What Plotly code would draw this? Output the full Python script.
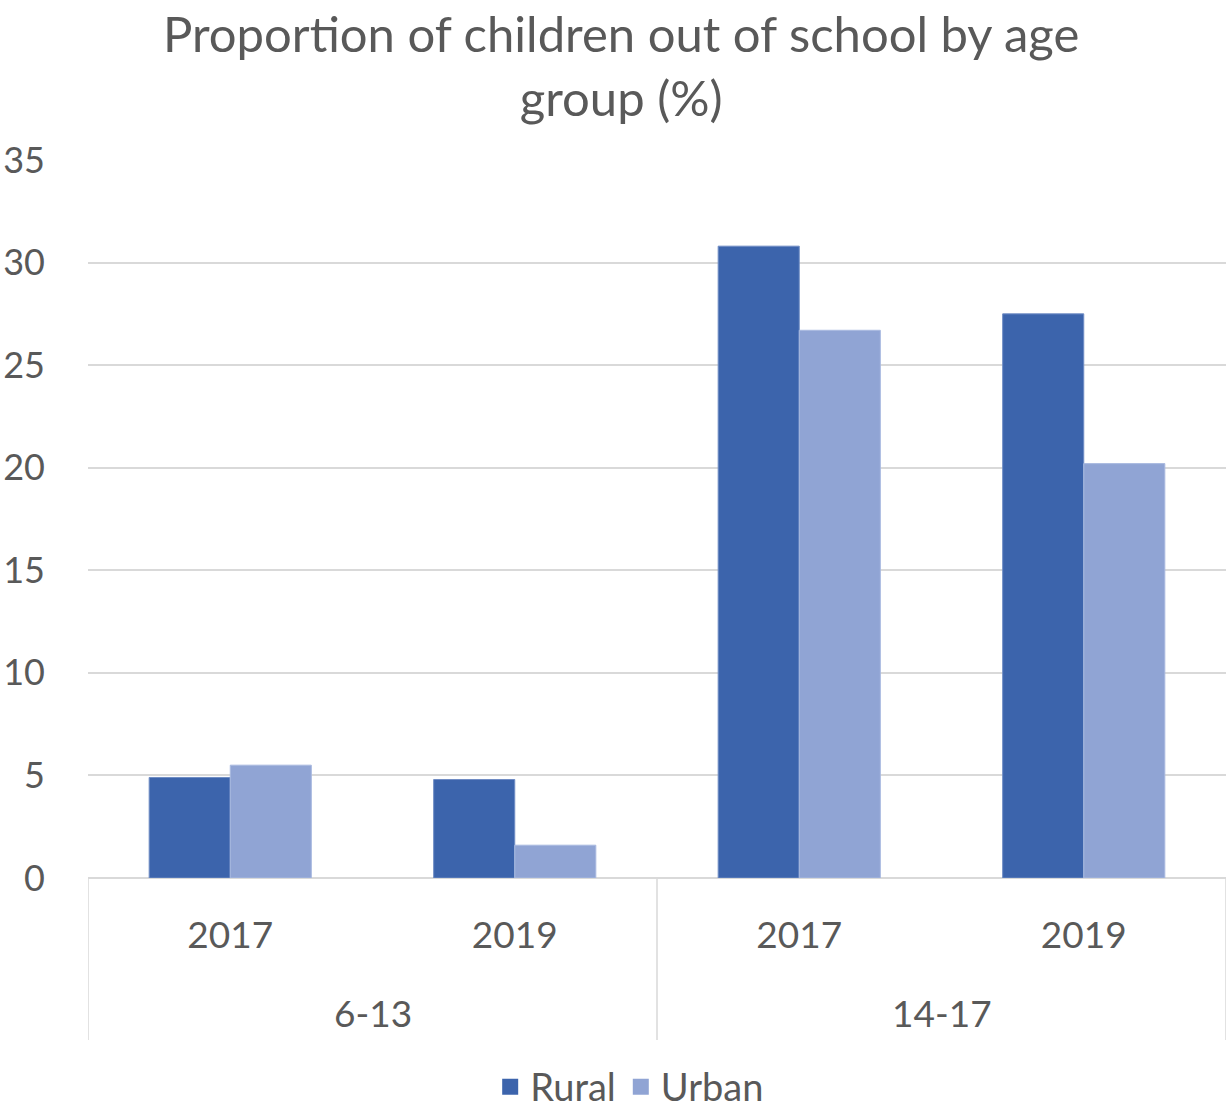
import plotly.graph_objects as go

age_groups = ["6-13", "14-17"]
years = ["2017", "2019", "2017", "2019"]
rural = [4.9, 4.8, 30.8, 27.5]
urban = [5.5, 1.6, 26.7, 20.2]
y_ticks = [0, 5, 10, 15, 20, 25, 30, 35]

FONT = "Lato, 'Open Sans', sans-serif"
TXT = "#595959"
GRID = "#D9D9D9"
C_RURAL = "#3C64AC"
C_URBAN = "#90A4D4"

xpos = list(range(len(years)))

fig = go.Figure()
fig.add_trace(go.Bar(x=xpos, y=rural, name="Rural", showlegend=False,
                     marker=dict(color=C_RURAL, line=dict(color="#6F8CC4", width=1))))
fig.add_trace(go.Bar(x=xpos, y=urban, name="Urban", showlegend=False,
                     marker=dict(color=C_URBAN, line=dict(color="#A9BAE0", width=1))))
# legend entries with larger square swatches
for nm, c in [("Rural", C_RURAL), ("Urban", C_URBAN)]:
    fig.add_trace(go.Scatter(x=[None], y=[None], mode="markers", name=nm,
                             marker=dict(symbol="square", size=22, color=c)))

# group labels and dividers
for i, g in enumerate(age_groups):
    fig.add_annotation(x=2 * i + 0.5, xref="x", y=-0.188, yref="paper", text=g, showarrow=False,
                       font=dict(family=FONT, size=37, color=TXT), yanchor="middle")
for xv in [-0.5, 1.5, 3.5]:
    fig.add_shape(type="line", x0=xv, x1=xv, xref="x", y0=0, y1=-0.2256, yref="paper",
                  line=dict(color=GRID, width=1.5))

fig.update_layout(
    width=1230, height=1109,
    margin=dict(l=88, r=4, t=160, b=231, autoexpand=False),
    paper_bgcolor="white", plot_bgcolor="white",
    title=dict(text="Proportion of children out of school by age<br>group (%)", x=0.505, xanchor="center",
               y=0.953, yanchor="top", font=dict(family=FONT, size=49, color=TXT)),
    barmode="group", bargap=0.43, bargroupgap=0,
    showlegend=True,
    legend=dict(orientation="h", x=0.476, xanchor="center", y=-0.291, yanchor="middle",
                font=dict(family=FONT, size=38, color=TXT), itemsizing="trace"),
    xaxis=dict(range=[-0.5, 3.5], tickvals=xpos, ticktext=years, showgrid=False, zeroline=False,
               showline=False, ticks="", ticklabelstandoff=32,
               tickfont=dict(family=FONT, size=37, color=TXT)),
    yaxis=dict(range=[0, 35], tickvals=y_ticks, showgrid=True, gridcolor=GRID, gridwidth=2,
               zeroline=True, zerolinecolor=GRID, zerolinewidth=2, showline=False, ticks="",
               ticklabelstandoff=42, tickfont=dict(family=FONT, size=36, color=TXT)),
)

fig.write_html("out.html")
